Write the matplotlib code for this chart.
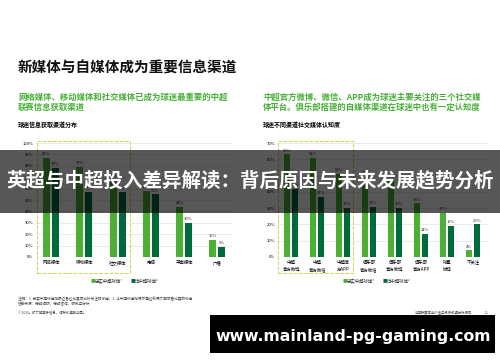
import matplotlib
matplotlib.use('Agg')
import matplotlib.pyplot as plt
from matplotlib.patches import Rectangle
import numpy as np

plt.rcParams['font.family'] = ['Noto Sans CJK SC', 'DejaVu Sans']

# 左图：球迷信息获取渠道分布
left_cats = ['网络媒体', '移动媒体', '社交媒体', '电视', '平面媒体', '广播']
left_loyal = [87, 79, 68, 58, 44, 15]
left_general = [78, 57, 57, 55, 30, 9]

# 右图：球迷不同渠道社交媒体认知度
right_cats = ['中超\n官方微博', '中超\n官方微信', '中超官\n方APP', '俱乐部\n官方微信',
              '俱乐部\n官方微博', '俱乐部\n官方APP', '球星\n微博', '不关注']
right_loyal = [63, 61, 51, 49, 47, 33, 27, 4]
right_general = [42, 37, 30, 31, 30, 14, 19, 20]

legend_labels = ['忠实中超球迷¹', '泛中超球迷²']

W, H = 500, 362
c_light = '#4cb034'
c_dark = '#006b3a'
c_green_text = '#45b035'

fig = plt.figure(figsize=(W / 100, H / 100), dpi=100)
fig.patch.set_facecolor('white')


def rect(x0, y0, x1, y1):
    return [x0 / W, 1 - y1 / H, (x1 - x0) / W, (y1 - y0) / H]


def ftext(x, y, s, **kw):
    fig.text(x / W, 1 - y / H, s, **kw)


def bars(ax, cats, loyal, general, ymax, step, width, off):
    x = np.arange(len(cats))
    ax.bar(x - off, loyal, width, color=c_light, zorder=3)
    ax.bar(x + off, general, width, color=c_dark, zorder=3)
    for xi, v in zip(x, loyal):
        ax.text(xi - off, v + ymax * 0.015, f'{v}%', ha='center', va='bottom',
                fontsize=3, color='#333333')
    for xi, v in zip(x, general):
        ax.text(xi + off, v + ymax * 0.015, f'{v}%', ha='center', va='bottom',
                fontsize=3, color='#333333')
    ax.set_ylim(0, ymax)
    ax.set_yticks(np.arange(0, ymax + 1, step))
    ax.set_yticklabels([f'{t}%' for t in range(0, ymax + 1, step)], fontsize=3)
    ax.set_xticks(x)
    ax.set_xticklabels(cats, fontsize=3.2, linespacing=1.6)
    ax.tick_params(length=0, pad=2)
    ax.grid(axis='y', color='#e6e6e6', lw=0.6, zorder=0)
    for s in ax.spines.values():
        s.set_visible(False)


axl = fig.add_axes(rect(36, 143, 233, 257))
bars(axl, left_cats, left_loyal, left_general, 100, 10, 0.21, 0.135)
axl.set_xlim(-0.45, 5.47)

axr = fig.add_axes(rect(278, 143, 487, 257))
bars(axr, right_cats, right_loyal, right_general, 70, 10, 0.23, 0.14)
axr.set_xlim(-0.5, 7.54)

# 虚线框
for x0, x1 in [(37, 130), (278, 353)]:
    fig.add_artist(Rectangle((x0 / W, 1 - 273 / H), (x1 - x0) / W, 132 / H,
                             transform=fig.transFigure, fill=False, ls='--',
                             ec='#c9d84c', lw=0.7))

# 标题与说明
ftext(18, 68, '新媒体与自媒体成为重要信息渠道', fontsize=10.5, fontweight='bold',
      va='center', color='#111111')
ftext(18, 97, '网络媒体、移动媒体和社交媒体已成为球迷最重要的中超', fontsize=6,
      fontweight='bold', va='center', color=c_green_text)
ftext(18, 107, '联赛信息获取渠道', fontsize=6, fontweight='bold', va='center',
      color=c_green_text)
ftext(18, 124, '球迷信息获取渠道分布', fontsize=4.3, fontweight='bold', va='center')

ftext(263, 97, '中超官方微博、微信、APP成为球迷主要关注的三个社交媒', fontsize=6,
      fontweight='bold', va='center', color=c_green_text)
ftext(263, 107, '体平台。俱乐部搭建的自媒体渠道在球迷中也有一定认知度', fontsize=6,
      fontweight='bold', va='center', color=c_green_text)
ftext(263, 124, '球迷不同渠道社交媒体认知度', fontsize=4.3, fontweight='bold', va='center')

# 图例
for cx in (128, 380):
    ftext(cx - 37, 281, '■', fontsize=3.5, color=c_light, va='center')
    ftext(cx - 33, 281, legend_labels[0], fontsize=3.2, va='center', color='#333333')
    ftext(cx + 3, 281, '■', fontsize=3.5, color=c_dark, va='center')
    ftext(cx + 7, 281, legend_labels[1], fontsize=3.2, va='center', color='#333333')

# 注释
ftext(18, 299, '注释：1. 忠实中超球迷指最近看过比赛或比较关注的球迷；2. 泛中超球迷指偶尔通过新闻了解或看比赛的球迷',
      fontsize=2.6, va='center', color='#444444')
ftext(18, 304, '信息来源：德勤调研；德勤咨询，研究与分析', fontsize=2.6, va='center', color='#444444')
ftext(18, 313, '© 2016。欲了解更多信息，请联系德勤中国。', fontsize=2.4, va='center', color='#444444')
ftext(415, 313, '中超联赛商业价值与投资机遇分析报告', fontsize=2.4, va='center', color='#444444')
ftext(485, 313, '21', fontsize=2.4, va='center', color='#444444')

# 横幅
fig.add_artist(Rectangle((0, 1 - 213 / H), 1, 63 / H, transform=fig.transFigure,
                         fc='black', alpha=0.66, ec='none', zorder=10))
fig.text(0.5, 1 - 181 / H, '英超与中超投入差异解读：背后原因与未来发展趋势分析',
         fontsize=14, fontweight='bold', color='white', ha='center', va='center', zorder=11)

# 底部网址框
fig.add_artist(Rectangle((210 / W, 1 - 353 / H), 285 / W, 38 / H,
                         transform=fig.transFigure, fc='black', ec='none', zorder=10))
fig.text(353 / W, 1 - 337 / H, 'www.mainland-pg-gaming.com', fontsize=11.3,
         fontweight='bold', color='white', ha='center', va='center',
         family='DejaVu Sans', zorder=11)

fig.savefig('out.png', dpi=100)
